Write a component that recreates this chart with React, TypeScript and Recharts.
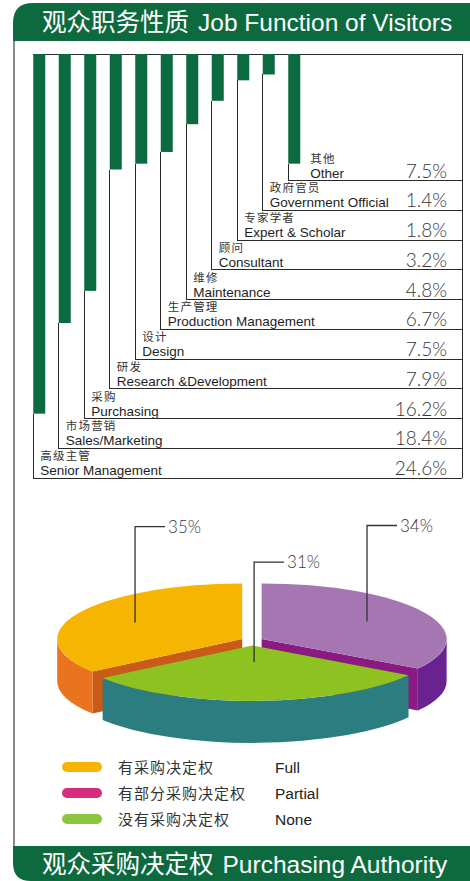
import React from 'react';
import { BarChart, Bar, XAxis, YAxis, PieChart, Pie } from 'recharts';

// ---------- Job function of visitors ----------
const jobCn = ['高级主管', '市场营销', '采购', '研发', '设计', '生产管理', '维修', '顾问', '专家学者', '政府官员', '其他'];
const jobEn = ['Senior Management', 'Sales/Marketing', 'Purchasing', 'Research &Development', 'Design', 'Production Management', 'Maintenance', 'Consultant', 'Expert & Scholar', 'Government Official', 'Other'];
const jobShare = [24.6, 18.4, 16.2, 7.9, 7.5, 6.7, 4.8, 3.2, 1.8, 1.4, 7.5];

// ---------- Purchasing authority ----------
const authCn = ['有采购决定权', '有部分采购决定权', '没有采购决定权'];
const authEn = ['Full', 'Partial', 'None'];
const authShare = [35, 34, 31];

// ---------- styles ----------
const GREEN = '#0d6a3e';
const BAR_GREEN = '#0b6a40';
const authTop = ['#f6b500', '#a676b2', '#8dc220'];
const authRim = ['#e9731f', '#6a2290', '#2b7d80'];
const authCut = ['#c95a17', '#8a1a82', '#23706f'];
const authLegend = ['#f7b400', '#d62c7c', '#8cc63f'];

const CN = '"Noto Sans CJK SC", sans-serif';
const EN = '"Liberation Sans", Arial, sans-serif';
const NUM = 'Lato, "Liberation Sans", sans-serif';

const BAR_TOP = 54;
const BAR_BOTTOM = 478;
const ROW_H = 29.75;
const FRAME_RIGHT = 462;
const PCT_RIGHT = 447;
const LINE = '#2a2a2a';

const jobData = jobEn.map((name, i) => ({ name, value: jobShare[i] }));

function JobBar(props: any) {
  const { x, y, width, height, index } = props;
  const top = Math.min(y, y + height);
  const h = Math.abs(height);
  const end = top + h;
  const rowBottom = BAR_BOTTOM - ROW_H * index;
  const rowTop = rowBottom - ROW_H;
  const tx = end > rowTop + 4 ? x + width + 10 : x + 7;
  return (
    <g>
      {index === 0 && (
        <path d={`M${x},${BAR_TOP}H${FRAME_RIGHT}V${BAR_BOTTOM}`} fill="none" stroke={LINE} strokeWidth={1} shapeRendering="crispEdges" />
      )}
      <path d={`M${x},${end}V${rowBottom}H${FRAME_RIGHT}`} fill="none" stroke={LINE} strokeWidth={1} shapeRendering="crispEdges" />
      <rect x={x} y={top} width={width} height={h} fill={BAR_GREEN} />
      <text x={tx} y={rowBottom - 18} fontFamily={CN} fontSize={11.5} fill="#333" letterSpacing={1.2}>{jobCn[index]}</text>
      <text x={tx} y={rowBottom - 3} fontFamily={EN} fontSize={13.5} fill="#1e1e1e">{jobEn[index]}</text>
      <text x={PCT_RIGHT} y={rowBottom - 3} textAnchor="end" fontFamily={NUM} fontWeight={300} fontSize={19} fill="#363636">
        {jobShare[index].toFixed(1)}%
      </text>
    </g>
  );
}

// ---------- 3D pie helpers ----------
const RAD = Math.PI / 180;
const TILT = 0.3;
const DEPTH = 42;
const EXPLODE = 11;

const pieData = [0, 2, 1].map((i) => ({ name: authEn[i], value: authShare[i], idx: i }));

function geom(p: any) {
  const lo = Math.min(p.startAngle, p.endAngle);
  const hi = Math.max(p.startAngle, p.endAngle);
  const mid = (lo + hi) / 2;
  const ox = p.cx + EXPLODE * Math.cos(mid * RAD);
  const oy = p.cy - EXPLODE * 0.4 * Math.sin(mid * RAD);
  return { lo, hi, mid, ox, oy, R: p.outerRadius };
}

function pt(ox: number, oy: number, r: number, a: number) {
  return [ox + r * Math.cos(a * RAD), oy - r * TILT * Math.sin(a * RAD)];
}

function renderSlice(pass: number) {
  return (p: any) => {
    const { lo, hi, mid, ox, oy, R } = geom(p);
    const i = p.payload.idx;
    const front = Math.sin(mid * RAD) < 0;
    if (front !== (pass === 1)) return <g />;
    const rx = R;
    const ry = R * TILT;
    const P = (a: number) => pt(ox, oy, R, a);
    const parts: any[] = [];
    const face = (a: number) => {
      const [x1, y1] = P(a);
      return `M${ox},${oy}L${x1},${y1}L${x1},${y1 + DEPTH}L${ox},${oy + DEPTH}Z`;
    };
    if (Math.cos(lo * RAD) > 1e-6) parts.push(<path key="f1" d={face(lo)} fill={authCut[i]} />);
    if (Math.cos(hi * RAD) < -1e-6) parts.push(<path key="f2" d={face(hi)} fill={authCut[i]} />);
    for (let k = -1; k <= 2; k++) {
      const b1 = Math.max(lo, 180 + 360 * k);
      const b2 = Math.min(hi, 360 + 360 * k);
      if (b2 > b1) {
        const [x1, y1] = P(b1);
        const [x2, y2] = P(b2);
        const large = b2 - b1 > 180 ? 1 : 0;
        parts.push(
          <path
            key={`r${k}`}
            d={`M${x1},${y1}A${rx},${ry} 0 ${large} 0 ${x2},${y2}L${x2},${y2 + DEPTH}A${rx},${ry} 0 ${large} 1 ${x1},${y1 + DEPTH}Z`}
            fill={authRim[i]}
          />
        );
      }
    }
    const [sx, sy] = P(lo);
    const [ex, ey] = P(hi);
    const large = hi - lo > 180 ? 1 : 0;
    parts.push(<path key="t" d={`M${ox},${oy}L${sx},${sy}A${rx},${ry} 0 ${large} 0 ${ex},${ey}Z`} fill={authTop[i]} />);
    return <g>{parts}</g>;
  };
}

function renderPieLabel(p: any) {
  const { mid, ox, oy, R } = geom(p);
  const front = Math.sin(mid * RAD) < 0;
  const [ax, ay] = pt(ox, oy, R * (front ? 0.3 : 0.65), mid);
  const ly = ay - (front ? 100 : 96);
  return (
    <g>
      <path d={`M${ax},${ay}V${ly}H${ax + 30}`} stroke="#333" strokeWidth={1.3} fill="none" />
      <text x={ax + 33} y={ly + 6} fontFamily={NUM} fontWeight={300} fontSize={17} fill="#383838">
        {p.value}%
      </text>
    </g>
  );
}

export default function App() {
  return (
    <div style={{ position: 'absolute', left: 0, top: 0, width: 470, height: 881, background: '#fff', overflow: 'hidden' }}>
      <svg width={470} height={881} style={{ position: 'absolute', left: 0, top: 0 }}>
        <path d="M13,41V23Q13,3 33,3H470V41Z" fill={GREEN} />
        <path d="M13,846H470V881H31Q13,881 13,863Z" fill={GREEN} />
        <line x1={14} y1={41} x2={14} y2={846} stroke="#8a8a8a" strokeWidth={2} />
        <text x={42} y={31} fill="#fff" fontSize={24.5}>
          <tspan fontFamily={CN}>观众职务性质</tspan>
          <tspan fontFamily={EN} dx={9}>Job Function of Visitors</tspan>
        </text>
        <text x={42} y={873} fill="#fff" fontSize={24.5}>
          <tspan fontFamily={CN}>观众采购决定权</tspan>
          <tspan fontFamily={EN} dx={9}>Purchasing Authority</tspan>
        </text>
        {authCn.map((cn, i) => (
          <g key={cn}>
            <rect x={62} y={762 + 26 * i} width={40} height={10} rx={5} fill={authLegend[i]} />
            <text x={118} y={773 + 26 * i} fontFamily={CN} fontSize={15} fill="#333" letterSpacing={1}>{cn}</text>
            <text x={275} y={773 + 26 * i} fontFamily={EN} fontSize={15.5} fill="#222">{authEn[i]}</text>
          </g>
        ))}
      </svg>

      <div style={{ position: 'absolute', left: 0, top: 0 }}>
        <BarChart width={470} height={500} data={jobData} margin={{ top: BAR_TOP, bottom: 500 - BAR_BOTTOM, left: 26.25, right: 163.25 }}>
          <XAxis dataKey="name" hide />
          <YAxis hide type="number" domain={[0, 29]} reversed />
          <Bar dataKey="value" barSize={12} shape={(p: any) => <JobBar {...p} />} isAnimationActive={false} />
        </BarChart>
      </div>

      <div style={{ position: 'absolute', left: 0, top: 480 }}>
        <PieChart width={470} height={280} margin={{ top: 0, right: 0, bottom: 0, left: 0 }}>
          <Pie data={pieData} dataKey="value" nameKey="name" cx={252} cy={161} outerRadius={185} startAngle={90} endAngle={450}
            fill="none" stroke="none" label={renderSlice(0)} labelLine={false} isAnimationActive={false} />
          <Pie data={pieData} dataKey="value" nameKey="name" cx={252} cy={161} outerRadius={185} startAngle={90} endAngle={450}
            fill="none" stroke="none" label={renderSlice(1)} labelLine={false} isAnimationActive={false} />
          <Pie data={pieData} dataKey="value" nameKey="name" cx={252} cy={161} outerRadius={185} startAngle={90} endAngle={450}
            fill="none" stroke="none" label={renderPieLabel} labelLine={false} isAnimationActive={false} />
        </PieChart>
      </div>
    </div>
  );
}
